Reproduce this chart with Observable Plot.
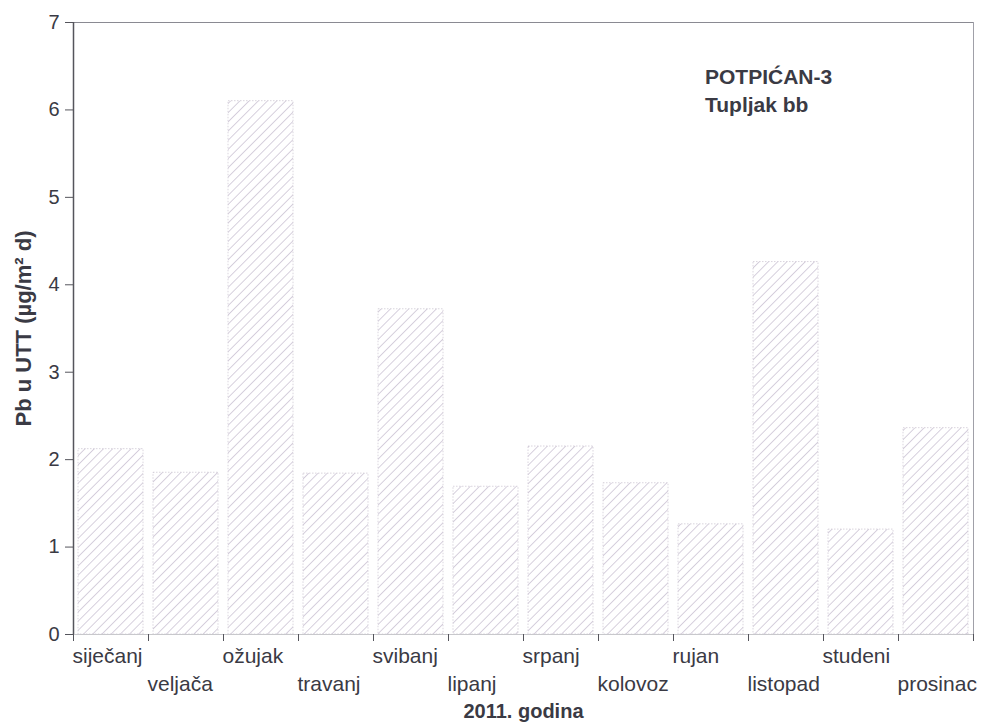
<!DOCTYPE html>
<html>
<head>
<meta charset="utf-8">
<script src="https://cdn.jsdelivr.net/npm/d3@7"></script>
<script src="https://cdn.jsdelivr.net/npm/@observablehq/plot@0.6"></script>
<style>
  body { margin: 0; background: #fff; }
  #chart { position: relative; width: 984px; height: 725px; }
</style>
</head>
<body>
<div id="chart"></div>
<script>
const months = ["siječanj","veljača","ožujak","travanj","svibanj","lipanj","srpanj","kolovoz","rujan","listopad","studeni","prosinac"];
const values = [2.12, 1.85, 6.10, 1.84, 3.72, 1.69, 2.15, 1.73, 1.26, 4.26, 1.20, 2.36];
const yTicks = [0, 1, 2, 3, 4, 5, 6, 7];
const titleLines = ["POTPIĆAN-3", "Tupljak bb"];
const yLabel = "Pb u UTT (µg/m² d)";
const xLabel = "2011. godina";

const data = months.map((m, i) => ({month: m, i, value: values[i]}));
const bounds = d3.range(0, months.length + 1);

const font = "Arial, 'Liberation Sans', sans-serif";
const textColor = "#3a3a44";

const plot = Plot.plot({
  width: 984,
  height: 725,
  marginLeft: 73,
  marginRight: 11,
  marginTop: 22,
  marginBottom: 91,
  style: {fontFamily: font, background: "#fff"},
  x: {type: "linear", domain: [0, 12], axis: null},
  y: {type: "linear", domain: [0, 7], axis: null},
  marks: [
    Plot.rect(data, {x1: "i", x2: d => d.i + 1, y1: 0, y2: "value", insetLeft: 5, insetRight: 5, fill: "url(#hatch)", stroke: "#d0cad6", strokeWidth: 0.8, strokeDasharray: "1.5,1.5"}),
    // frame top and right
    Plot.ruleY([7], {stroke: "#8a8a92", strokeWidth: 1}),
    Plot.ruleX([12], {stroke: "#a0a0a8", strokeWidth: 1}),
    // left axis line and bottom axis line
    Plot.ruleX([0], {stroke: "#55555c", strokeWidth: 1.5}),
    Plot.ruleY([0], {stroke: "#c8c8cc", strokeWidth: 1}),
    // y ticks and labels
    Plot.axisY({ticks: yTicks, tickSize: 8, tickPadding: 6, tickFormat: "d", fontSize: 20, stroke: "#55555c", fill: textColor, label: null}),
    // x ticks at band boundaries
    Plot.axisX({ticks: bounds, tickSize: 7, tickFormat: () => "", stroke: "#55555c", label: null}),
    // month labels, alternating rows
    Plot.text(data.filter(d => d.i % 2 === 0), {x: "i", y: 0, text: "month", textAnchor: "start", dx: -1, dy: 22, fontSize: 21, fill: textColor}),
    Plot.text(data.filter(d => d.i % 2 === 1), {x: "i", y: 0, text: "month", textAnchor: "start", dx: -1, dy: 50, fontSize: 21, fill: textColor}),
    // axis titles
    Plot.text([xLabel], {x: 6, y: 0, text: d => d, dy: 77, fontSize: 20, fontWeight: "bold", fill: textColor}),
    Plot.text([yLabel], {x: 0, y: 3.5, text: d => d, dx: -50, rotate: -90, fontSize: 22, fontWeight: "bold", fill: textColor}),
    // inset title
    Plot.text([titleLines[0]], {x: 8.42, y: 6.37, text: d => d, textAnchor: "start", fontSize: 21, fontWeight: "bold", fill: textColor}),
    Plot.text([titleLines[1]], {x: 8.42, y: 6.37, text: d => d, textAnchor: "start", dy: 28, fontSize: 21, fontWeight: "bold", fill: textColor})
  ]
});

// add hatch pattern
const svg = d3.select(plot);
const defs = svg.insert("defs", ":first-child");
const pat = defs.append("pattern")
  .attr("id", "hatch")
  .attr("patternUnits", "userSpaceOnUse")
  .attr("width", 6.5)
  .attr("height", 6.5)
  .attr("patternTransform", "rotate(45)");
pat.append("rect").attr("width", 6.5).attr("height", 6.5).attr("fill", "#fff");
pat.append("line").attr("x1", 0).attr("y1", 0).attr("x2", 0).attr("y2", 6.5)
  .attr("stroke", "#bdb2c8").attr("stroke-width", 1.2);

document.getElementById("chart").appendChild(plot);
</script>
</body>
</html>
